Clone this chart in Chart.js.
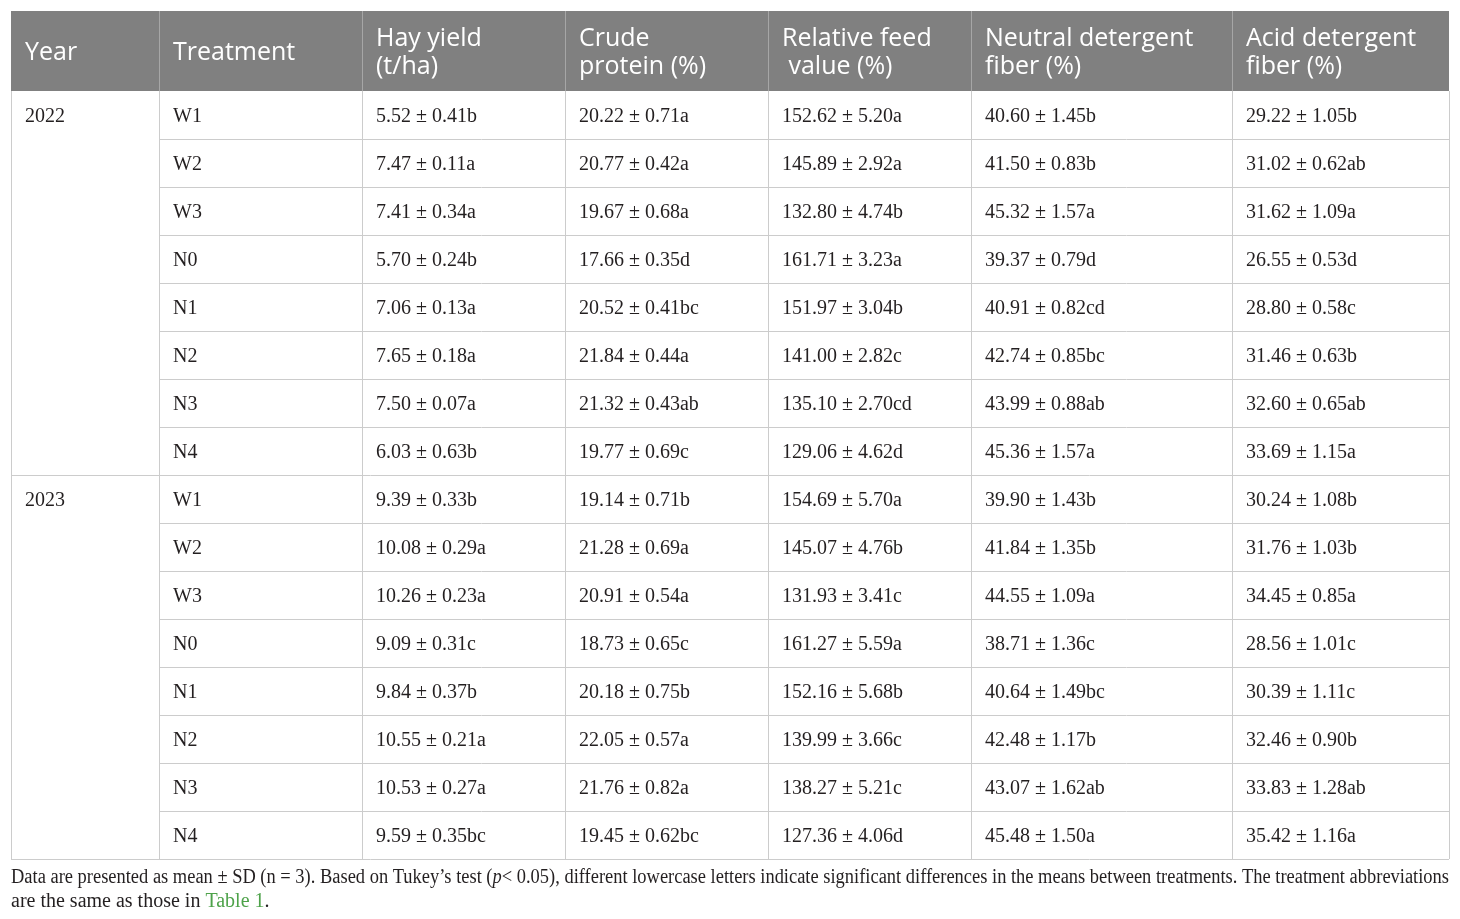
<!DOCTYPE html>
<html>
<head>
<meta charset="utf-8">
<script src="https://cdn.jsdelivr.net/npm/chart.js@4"></script>
<style>
  html, body { margin: 0; padding: 0; background: #fff; }
  #wrap { width: 1460px; height: 919px; }
</style>
</head>
<body>
<div id="wrap"><canvas id="tableChart" width="1460" height="919"></canvas></div>
<script>
// table content
const years = ["2022", "2023"];
const treatments = ["W1", "W2", "W3", "N0", "N1", "N2", "N3", "N4"];
const headers = [
  ["Year"],
  ["Treatment"],
  ["Hay yield", "(t/ha)"],
  ["Crude", "protein (%)"],
  ["Relative feed", " value (%)"],
  ["Neutral detergent", "fiber (%)"],
  ["Acid detergent", "fiber (%)"],
];
const hayYield = [
  "5.52 ± 0.41b", "7.47 ± 0.11a", "7.41 ± 0.34a", "5.70 ± 0.24b",
  "7.06 ± 0.13a", "7.65 ± 0.18a", "7.50 ± 0.07a", "6.03 ± 0.63b",
  "9.39 ± 0.33b", "10.08 ± 0.29a", "10.26 ± 0.23a", "9.09 ± 0.31c",
  "9.84 ± 0.37b", "10.55 ± 0.21a", "10.53 ± 0.27a", "9.59 ± 0.35bc",
];
const crudeProtein = [
  "20.22 ± 0.71a", "20.77 ± 0.42a", "19.67 ± 0.68a", "17.66 ± 0.35d",
  "20.52 ± 0.41bc", "21.84 ± 0.44a", "21.32 ± 0.43ab", "19.77 ± 0.69c",
  "19.14 ± 0.71b", "21.28 ± 0.69a", "20.91 ± 0.54a", "18.73 ± 0.65c",
  "20.18 ± 0.75b", "22.05 ± 0.57a", "21.76 ± 0.82a", "19.45 ± 0.62bc",
];
const feedValue = [
  "152.62 ± 5.20a", "145.89 ± 2.92a", "132.80 ± 4.74b", "161.71 ± 3.23a",
  "151.97 ± 3.04b", "141.00 ± 2.82c", "135.10 ± 2.70cd", "129.06 ± 4.62d",
  "154.69 ± 5.70a", "145.07 ± 4.76b", "131.93 ± 3.41c", "161.27 ± 5.59a",
  "152.16 ± 5.68b", "139.99 ± 3.66c", "138.27 ± 5.21c", "127.36 ± 4.06d",
];
const neutralFiber = [
  "40.60 ± 1.45b", "41.50 ± 0.83b", "45.32 ± 1.57a", "39.37 ± 0.79d",
  "40.91 ± 0.82cd", "42.74 ± 0.85bc", "43.99 ± 0.88ab", "45.36 ± 1.57a",
  "39.90 ± 1.43b", "41.84 ± 1.35b", "44.55 ± 1.09a", "38.71 ± 1.36c",
  "40.64 ± 1.49bc", "42.48 ± 1.17b", "43.07 ± 1.62ab", "45.48 ± 1.50a",
];
const acidFiber = [
  "29.22 ± 1.05b", "31.02 ± 0.62ab", "31.62 ± 1.09a", "26.55 ± 0.53d",
  "28.80 ± 0.58c", "31.46 ± 0.63b", "32.60 ± 0.65ab", "33.69 ± 1.15a",
  "30.24 ± 1.08b", "31.76 ± 1.03b", "34.45 ± 0.85a", "28.56 ± 1.01c",
  "30.39 ± 1.11c", "32.46 ± 0.90b", "33.83 ± 1.28ab", "35.42 ± 1.16a",
];
const footnote = [
  [["Data are presented as mean ± SD (n = 3). Based on Tukey’s test (", ""], ["p", "italic"],
   ["< 0.05), different lowercase letters indicate significant differences in the means between treatments. The treatment abbreviations", ""]],
  [["are the same as those in ", ""], ["Table 1", "link"], [".", ""]],
];

// layout (column widths in px-like units, header height in row units)
const colWidths = [148, 203, 203, 203, 203, 261, 217];
const headerRows = 80 / 48;
const cellPad = 14;

const colEdges = [0];
colWidths.forEach((w) => colEdges.push(colEdges[colEdges.length - 1] + w));

const rowYear = [];
const rowTreat = [];
years.forEach((y) => treatments.forEach((t, i) => {
  rowYear.push(i === 0 ? y : "");
  rowTreat.push(t);
}));
const columns = [rowYear, rowTreat, hayYield, crudeProtein, feedValue, neutralFiber, acidFiber];

const datasets = columns.map((col, c) => ({
  label: headers[c].join(" "),
  data: col.map((txt, r) => ({ x: colEdges[c], y: r + 0.5, txt })),
  pointRadius: 0,
  showLine: false,
}));

const tablePlugin = {
  id: "tableDraw",
  beforeDatasetsDraw(chart) {
    const { ctx, scales: { x, y } } = chart;
    const left = x.getPixelForValue(0);
    const right = x.getPixelForValue(colEdges[colEdges.length - 1]);
    const top = y.getPixelForValue(-headerRows);
    const hb = y.getPixelForValue(0);
    const bottom = y.getPixelForValue(rowTreat.length);
    ctx.save();
    // header
    ctx.fillStyle = "#808080";
    ctx.fillRect(left, top, right - left, hb - top);
    ctx.strokeStyle = "#a6a6a6";
    ctx.lineWidth = 1;
    colEdges.slice(1, -1).forEach((e) => {
      const px = Math.round(x.getPixelForValue(e)) + 0.5;
      ctx.beginPath(); ctx.moveTo(px, top); ctx.lineTo(px, hb); ctx.stroke();
    });
    // body grid
    ctx.strokeStyle = "#cccccc";
    for (let r = 1; r <= rowTreat.length; r++) {
      const py = Math.round(y.getPixelForValue(r)) + 0.5;
      const startX = (r % treatments.length === 0) ? left : x.getPixelForValue(colEdges[1]);
      ctx.beginPath(); ctx.moveTo(startX, py); ctx.lineTo(right, py); ctx.stroke();
    }
    colEdges.forEach((e) => {
      const px = Math.round(x.getPixelForValue(e)) + 0.5;
      ctx.beginPath(); ctx.moveTo(px, hb); ctx.lineTo(px, bottom); ctx.stroke();
    });
    // header text
    ctx.fillStyle = "#ffffff";
    ctx.font = "25px 'Open Sans'";
    ctx.textBaseline = "middle";
    const hMid = (top + hb) / 2 + 2;
    headers.forEach((lines, c) => {
      const px = x.getPixelForValue(colEdges[c]) + cellPad;
      lines.forEach((ln, i) => {
        ctx.fillText(ln, px, hMid + (i - (lines.length - 1) / 2) * 28);
      });
    });
    // body text
    ctx.fillStyle = "#231f20";
    ctx.font = "20px 'Liberation Serif'";
    chart.data.datasets.forEach((ds, c) => {
      const meta = chart.getDatasetMeta(c);
      meta.data.forEach((pt, r) => {
        const txt = ds.data[r].txt;
        if (txt) ctx.fillText(txt, pt.x + cellPad, pt.y + 2);
      });
    });
    // footnote
    ctx.textBaseline = "alphabetic";
    const fontFor = (s) => (s === "italic" ? "italic " : "") + "20px 'Liberation Serif'";
    footnote.forEach((line, li) => {
      const words = [];
      line.forEach(([t, s]) => {
        t.split(/(\s+)/).forEach((w) => {
          if (w === "") return;
          if (/^\s+$/.test(w)) { words.push({ space: true }); return; }
          if (words.length && !words[words.length - 1].space) {
            words[words.length - 1].parts.push([w, s]);
          } else {
            words.push({ parts: [[w, s]] });
          }
        });
      });
      let total = 0, spaces = 0;
      ctx.font = fontFor("");
      const spaceW = ctx.measureText(" ").width;
      words.forEach((w) => {
        if (w.space) { spaces++; return; }
        w.w = 0;
        w.parts.forEach(([t, s]) => { ctx.font = fontFor(s); w.w += ctx.measureText(t).width; });
        total += w.w;
      });
      const avail = right - left;
      let sx = 1, gap = spaceW;
      if (li === 0) {
        const natural = total + spaces * spaceW;
        if (natural > avail) { sx = avail / natural; } else { gap = (avail - total) / spaces; }
      }
      const by = bottom + 24 + li * 24;
      ctx.save();
      ctx.translate(left, by);
      ctx.scale(sx, 1);
      let cx = 0;
      words.forEach((w) => {
        if (w.space) { cx += gap; return; }
        w.parts.forEach(([t, s]) => {
          ctx.font = fontFor(s);
          ctx.fillStyle = s === "link" ? "#4ea24a" : "#231f20";
          ctx.fillText(t, cx, 0);
          cx += ctx.measureText(t).width;
        });
      });
      ctx.restore();
    });
    ctx.restore();
  },
};

new Chart(document.getElementById("tableChart"), {
  type: "scatter",
  data: { datasets },
  options: {
    responsive: false,
    animation: false,
    layout: { padding: { left: 11, right: 11, top: 11, bottom: 60 } },
    plugins: { legend: { display: false }, tooltip: { enabled: false } },
    scales: {
      x: { type: "linear", display: false, min: 0, max: colEdges[colEdges.length - 1] },
      y: { type: "linear", display: false, reverse: true, min: -headerRows, max: rowTreat.length },
    },
  },
  plugins: [tablePlugin],
});
</script>
</body>
</html>
